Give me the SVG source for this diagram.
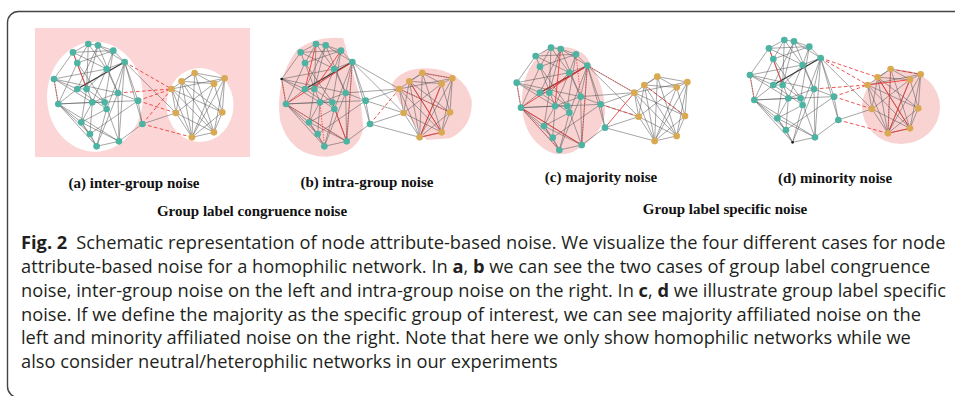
<svg xmlns="http://www.w3.org/2000/svg" xmlns:xlink="http://www.w3.org/1999/xlink" width="955" height="396" viewBox="0 0 955 396">
<style>
.e{stroke:#505050;stroke-width:1.8;stroke-opacity:0.85;fill:none}
.tk{stroke:#333;stroke-width:3.4;fill:none}
.r{stroke:#e8332e;stroke-width:2.5;fill:none}
.rd{stroke:#e8332e;stroke-width:2.5;stroke-dasharray:11 7;fill:none}
.ro{stroke:#e8332e;stroke-width:2.5;stroke-dasharray:4 4;fill:none}
.t{fill:#4db3a2}
.g{fill:#d9aa52}
.k{fill:#222}
.pink{fill:#f9d2d2}
.lab{font-family:"Liberation Serif","Times New Roman",serif;font-weight:bold;font-size:15px;fill:#111;text-anchor:middle}
.cap{font-family:"Open Sans","Noto Sans",sans-serif;font-size:18.25px;fill:#231f20}
.bold{font-weight:bold}
</style>
<defs>
<g id="base">
<line class="e" x1="183" y1="83" x2="212" y2="87"/>
<line class="e" x1="183" y1="83" x2="137" y2="108"/>
<line class="e" x1="183" y1="83" x2="238" y2="158"/>
<line class="e" x1="183" y1="83" x2="150" y2="140"/>
<line class="e" x1="183" y1="83" x2="178" y2="218"/>
<line class="e" x1="212" y1="87" x2="258" y2="103"/>
<line class="e" x1="212" y1="87" x2="292" y2="137"/>
<line class="e" x1="212" y1="87" x2="150" y2="218"/>
<line class="e" x1="212" y1="87" x2="272" y2="230"/>
<line class="e" x1="258" y1="103" x2="292" y2="137"/>
<line class="e" x1="258" y1="103" x2="150" y2="140"/>
<line class="e" x1="258" y1="103" x2="137" y2="108"/>
<line class="e" x1="258" y1="103" x2="232" y2="258"/>
<line class="e" x1="137" y1="108" x2="80" y2="188"/>
<line class="e" x1="137" y1="108" x2="195" y2="258"/>
<line class="e" x1="137" y1="108" x2="238" y2="158"/>
<line class="e" x1="292" y1="137" x2="238" y2="158"/>
<line class="tk" x1="292" y1="137" x2="150" y2="218"/>
<line class="e" x1="292" y1="137" x2="272" y2="230"/>
<line class="e" x1="292" y1="137" x2="332" y2="253"/>
<line class="e" x1="292" y1="137" x2="345" y2="323"/>
<line class="e" x1="292" y1="137" x2="275" y2="375"/>
<line class="e" x1="292" y1="137" x2="238" y2="278"/>
<line class="e" x1="238" y1="158" x2="80" y2="188"/>
<line class="e" x1="238" y1="158" x2="178" y2="218"/>
<line class="e" x1="238" y1="158" x2="195" y2="258"/>
<line class="e" x1="150" y1="140" x2="93" y2="263"/>
<line class="e" x1="150" y1="140" x2="232" y2="258"/>
<line class="e" x1="80" y1="188" x2="150" y2="218"/>
<line class="e" x1="80" y1="188" x2="93" y2="263"/>
<line class="e" x1="80" y1="188" x2="272" y2="230"/>
<line class="e" x1="80" y1="188" x2="195" y2="258"/>
<line class="e" x1="150" y1="218" x2="178" y2="218"/>
<line class="e" x1="150" y1="218" x2="93" y2="263"/>
<line class="e" x1="150" y1="218" x2="238" y2="278"/>
<line class="e" x1="178" y1="218" x2="232" y2="258"/>
<line class="e" x1="178" y1="218" x2="162" y2="318"/>
<line class="e" x1="272" y1="230" x2="195" y2="258"/>
<line class="e" x1="272" y1="230" x2="332" y2="253"/>
<line class="e" x1="272" y1="230" x2="208" y2="390"/>
<line class="e" x1="93" y1="263" x2="195" y2="258"/>
<line class="e" x1="93" y1="263" x2="332" y2="253"/>
<line class="e" x1="93" y1="263" x2="162" y2="318"/>
<line class="e" x1="93" y1="263" x2="188" y2="353"/>
<line class="e" x1="93" y1="263" x2="275" y2="375"/>
<line class="e" x1="93" y1="263" x2="208" y2="390"/>
<line class="e" x1="195" y1="258" x2="232" y2="258"/>
<line class="e" x1="195" y1="258" x2="188" y2="353"/>
<line class="e" x1="232" y1="258" x2="238" y2="278"/>
<line class="e" x1="232" y1="258" x2="275" y2="375"/>
<line class="e" x1="238" y1="278" x2="162" y2="318"/>
<line class="e" x1="238" y1="278" x2="208" y2="390"/>
<line class="e" x1="332" y1="253" x2="345" y2="323"/>
<line class="e" x1="332" y1="253" x2="188" y2="353"/>
<line class="e" x1="162" y1="318" x2="188" y2="353"/>
<line class="e" x1="162" y1="318" x2="275" y2="375"/>
<line class="e" x1="345" y1="323" x2="275" y2="375"/>
<line class="e" x1="188" y1="353" x2="208" y2="390"/>
<line class="e" x1="275" y1="375" x2="208" y2="390"/>
<line class="e" x1="272" y1="230" x2="275" y2="375"/>
<line class="e" x1="212" y1="87" x2="178" y2="218"/>
<line class="e" x1="258" y1="103" x2="238" y2="158"/>
<line class="e" x1="162" y1="318" x2="208" y2="390"/>
<line class="e" x1="195" y1="258" x2="162" y2="318"/>
<line class="e" x1="238" y1="158" x2="272" y2="230"/>
<line class="e" x1="502" y1="170" x2="463" y2="195"/>
<line class="e" x1="502" y1="170" x2="592" y2="186"/>
<line class="e" x1="502" y1="170" x2="560" y2="202"/>
<line class="e" x1="502" y1="170" x2="433" y2="218"/>
<line class="e" x1="502" y1="170" x2="560" y2="348"/>
<line class="e" x1="502" y1="170" x2="494" y2="363"/>
<line class="e" x1="463" y1="195" x2="560" y2="202"/>
<line class="e" x1="463" y1="195" x2="446" y2="290"/>
<line class="e" x1="463" y1="195" x2="585" y2="288"/>
<line class="e" x1="463" y1="195" x2="560" y2="348"/>
<line class="e" x1="592" y1="186" x2="560" y2="202"/>
<line class="e" x1="592" y1="186" x2="585" y2="288"/>
<line class="e" x1="592" y1="186" x2="560" y2="348"/>
<line class="e" x1="592" y1="186" x2="433" y2="218"/>
<line class="e" x1="592" y1="186" x2="494" y2="363"/>
<line class="e" x1="560" y1="202" x2="446" y2="290"/>
<line class="e" x1="560" y1="202" x2="494" y2="363"/>
<line class="e" x1="560" y1="202" x2="585" y2="288"/>
<line class="e" x1="433" y1="218" x2="446" y2="290"/>
<line class="e" x1="433" y1="218" x2="585" y2="288"/>
<line class="e" x1="433" y1="218" x2="560" y2="348"/>
<line class="e" x1="433" y1="218" x2="494" y2="363"/>
<line class="e" x1="446" y1="290" x2="560" y2="348"/>
<line class="e" x1="446" y1="290" x2="494" y2="363"/>
<line class="e" x1="585" y1="288" x2="560" y2="348"/>
<line class="e" x1="585" y1="288" x2="494" y2="363"/>
<line class="e" x1="560" y1="348" x2="494" y2="363"/>
<line class="e" x1="463" y1="195" x2="494" y2="363"/>
<line class="e" x1="292" y1="137" x2="446" y2="290"/>
<line class="e" x1="345" y1="323" x2="446" y2="290"/>
</g>
<g id="crossgray">
<line class="e" x1="292" y1="137" x2="433" y2="218"/>
<line class="e" x1="332" y1="253" x2="433" y2="218"/>
<line class="e" x1="332" y1="253" x2="446" y2="290"/>
<line class="e" x1="345" y1="323" x2="494" y2="363"/>
<line class="e" x1="272" y1="230" x2="433" y2="218"/>
</g>
</defs>

<rect id="frame" x="7.5" y="11.5" width="1000" height="386" rx="11" fill="none" stroke="#444" stroke-width="1.4"/>

<g id="backgrounds">
<rect x="35" y="28" width="215" height="129" fill="#fcd6d6"/>
<ellipse cx="95" cy="96.7" rx="48" ry="55" fill="#fff"/>
<ellipse cx="200" cy="105" rx="33.5" ry="37" fill="#fff"/>
<path class="pink" d="M343.3,38.3 L347.3,53.3 L360,96.7 L363.3,126.7 Q360,153.3 326.7,156.7 Q290,156.7 280,120 Q275,80 296.7,50 Q316.7,35 343.3,38.3 Z"/>
<path class="pink" d="M391.7,85 Q400,68.3 426.7,68.3 Q463.3,70 471.7,100 Q473.3,126.7 450,138.3 L426.7,140 Q410,120 400,103.3 Z"/>
<path class="pink" d="M550,46.7 Q583.3,45 590,63.3 Q605,86.7 605,113.3 Q601.7,136.7 573.3,151.7 Q556.7,158.3 543.3,148.3 Q521.7,133.3 521.7,100 Q523.3,63.3 550,46.7 Z"/>
<ellipse class="pink" cx="901" cy="107" rx="39" ry="37"/>
</g>

<g id="panel-a" transform="translate(27.3,16.3) scale(0.33333)">
<g id="a-connectors">
<use href="#base" xlink:href="#base"/>
<line class="ro" x1="80" y1="188" x2="93" y2="263"/>
<line class="r" x1="137" y1="108" x2="178" y2="218"/>
<line class="rd" x1="292" y1="137" x2="433" y2="218"/>
<line class="rd" x1="272" y1="230" x2="433" y2="218"/>
<line class="rd" x1="332" y1="253" x2="433" y2="218"/>
<line class="rd" x1="332" y1="253" x2="446" y2="290"/>
<line class="rd" x1="345" y1="323" x2="433" y2="218"/>
<line class="rd" x1="345" y1="323" x2="494" y2="363"/>
</g>
<g id="a-nodes">
<circle id="a-t0" class="t" cx="183" cy="83" r="10"/>
<circle id="a-t1" class="t" cx="212" cy="87" r="10"/>
<circle id="a-t2" class="t" cx="258" cy="103" r="10"/>
<circle id="a-t3" class="t" cx="137" cy="108" r="10"/>
<circle id="a-t4" class="t" cx="292" cy="137" r="10"/>
<circle id="a-t5" class="t" cx="238" cy="158" r="10"/>
<circle id="a-t6" class="t" cx="150" cy="140" r="10"/>
<circle id="a-t7" class="t" cx="80" cy="188" r="10"/>
<circle id="a-t8" class="t" cx="150" cy="218" r="10"/>
<circle id="a-t9" class="t" cx="178" cy="218" r="10"/>
<circle id="a-t10" class="t" cx="272" cy="230" r="10"/>
<circle id="a-t11" class="t" cx="93" cy="263" r="10"/>
<circle id="a-t12" class="t" cx="195" cy="258" r="10"/>
<circle id="a-t13" class="t" cx="232" cy="258" r="10"/>
<circle id="a-t14" class="t" cx="238" cy="278" r="10"/>
<circle id="a-t15" class="t" cx="332" cy="253" r="10"/>
<circle id="a-t16" class="t" cx="162" cy="318" r="10"/>
<circle id="a-t17" class="t" cx="345" cy="323" r="10"/>
<circle id="a-t18" class="t" cx="188" cy="353" r="10"/>
<circle id="a-t19" class="t" cx="275" cy="375" r="10"/>
<circle id="a-t20" class="t" cx="208" cy="390" r="10"/>
<circle id="a-g0" class="g" cx="502" cy="170" r="10"/>
<circle id="a-g1" class="g" cx="463" cy="195" r="10"/>
<circle id="a-g2" class="g" cx="592" cy="186" r="10"/>
<circle id="a-g3" class="g" cx="560" cy="202" r="10"/>
<circle id="a-g4" class="g" cx="433" cy="218" r="10"/>
<circle id="a-g5" class="g" cx="446" cy="290" r="10"/>
<circle id="a-g6" class="g" cx="585" cy="288" r="10"/>
<circle id="a-g7" class="g" cx="560" cy="348" r="10"/>
<circle id="a-g8" class="g" cx="494" cy="363" r="10"/>
</g>
</g>

<g id="panel-b" transform="translate(255,16.3) scale(0.33333)">
<g id="b-connectors">
<use href="#base" xlink:href="#base"/>
<use href="#crossgray" xlink:href="#crossgray"/>
<line class="ro" x1="80" y1="188" x2="93" y2="263"/>
<line class="r" x1="93" y1="263" x2="292" y2="137"/>
<line class="ro" x1="93" y1="263" x2="275" y2="375"/>
<line class="ro" x1="292" y1="137" x2="275" y2="375"/>
<line class="r" x1="183" y1="83" x2="150" y2="218"/>
<line class="r" x1="258" y1="103" x2="178" y2="218"/>
<line class="ro" x1="195" y1="258" x2="208" y2="390"/>
<line class="r" x1="232" y1="258" x2="275" y2="375"/>
<line class="rd" x1="345" y1="323" x2="433" y2="218"/>
<line class="ro" x1="502" y1="170" x2="592" y2="186"/>
<line class="r" x1="463" y1="195" x2="560" y2="348"/>
<line class="r" x1="560" y1="202" x2="494" y2="363"/>
<line class="r" x1="560" y1="348" x2="494" y2="363"/>
<line class="ro" x1="433" y1="218" x2="585" y2="288"/>
</g>
<g id="b-nodes">
<circle id="b-t0" class="t" cx="183" cy="83" r="10"/>
<circle id="b-t1" class="t" cx="212" cy="87" r="10"/>
<circle id="b-t2" class="t" cx="258" cy="103" r="10"/>
<circle id="b-t3" class="t" cx="137" cy="108" r="10"/>
<circle id="b-t4" class="t" cx="292" cy="137" r="10"/>
<circle id="b-t5" class="t" cx="238" cy="158" r="10"/>
<circle id="b-t6" class="t" cx="150" cy="140" r="10"/>
<circle id="b-t7" class="k" cx="80" cy="188" r="4"/>
<circle id="b-t8" class="t" cx="150" cy="218" r="10"/>
<circle id="b-t9" class="t" cx="178" cy="218" r="10"/>
<circle id="b-t10" class="t" cx="272" cy="230" r="10"/>
<circle id="b-t11" class="t" cx="93" cy="263" r="10"/>
<circle id="b-t12" class="t" cx="195" cy="258" r="10"/>
<circle id="b-t13" class="t" cx="232" cy="258" r="10"/>
<circle id="b-t14" class="t" cx="238" cy="278" r="10"/>
<circle id="b-t15" class="t" cx="332" cy="253" r="10"/>
<circle id="b-t16" class="t" cx="162" cy="318" r="10"/>
<circle id="b-t17" class="t" cx="345" cy="323" r="10"/>
<circle id="b-t18" class="t" cx="188" cy="353" r="10"/>
<circle id="b-t19" class="t" cx="275" cy="375" r="10"/>
<circle id="b-t20" class="t" cx="208" cy="390" r="10"/>
<circle id="b-g0" class="g" cx="502" cy="170" r="10"/>
<circle id="b-g1" class="g" cx="463" cy="195" r="10"/>
<circle id="b-g2" class="g" cx="592" cy="186" r="10"/>
<circle id="b-g3" class="g" cx="560" cy="202" r="10"/>
<circle id="b-g4" class="g" cx="433" cy="218" r="10"/>
<circle id="b-g5" class="g" cx="446" cy="290" r="10"/>
<circle id="b-g6" class="g" cx="585" cy="288" r="10"/>
<circle id="b-g7" class="g" cx="560" cy="348" r="10"/>
<circle id="b-g8" class="g" cx="494" cy="363" r="10"/>
</g>
</g>

<g id="panel-c" transform="translate(490,20) scale(0.33333)">
<g id="c-connectors">
<use href="#base" xlink:href="#base"/>
<use href="#crossgray" xlink:href="#crossgray"/>
<line class="ro" x1="80" y1="188" x2="93" y2="263"/>
<line class="r" x1="93" y1="263" x2="292" y2="137"/>
<line class="r" x1="292" y1="137" x2="150" y2="218"/>
<line class="r" x1="93" y1="263" x2="275" y2="375"/>
<line class="ro" x1="292" y1="137" x2="275" y2="375"/>
<line class="r" x1="212" y1="87" x2="195" y2="258"/>
<line class="ro" x1="93" y1="263" x2="208" y2="390"/>
<line class="ro" x1="258" y1="103" x2="272" y2="230"/>
<line class="rd" x1="332" y1="253" x2="446" y2="290"/>
<line class="r" x1="345" y1="323" x2="433" y2="218"/>
<line class="ro" x1="292" y1="137" x2="433" y2="218"/>
<line class="rd" x1="463" y1="195" x2="585" y2="288"/>
</g>
<g id="c-nodes">
<circle id="c-t0" class="t" cx="183" cy="83" r="10"/>
<circle id="c-t1" class="t" cx="212" cy="87" r="10"/>
<circle id="c-t2" class="t" cx="258" cy="103" r="10"/>
<circle id="c-t3" class="t" cx="137" cy="108" r="10"/>
<circle id="c-t4" class="t" cx="292" cy="137" r="10"/>
<circle id="c-t5" class="t" cx="238" cy="158" r="10"/>
<circle id="c-t6" class="t" cx="150" cy="140" r="10"/>
<circle id="c-t7" class="t" cx="80" cy="188" r="10"/>
<circle id="c-t8" class="t" cx="150" cy="218" r="10"/>
<circle id="c-t9" class="t" cx="178" cy="218" r="10"/>
<circle id="c-t10" class="t" cx="272" cy="230" r="10"/>
<circle id="c-t11" class="t" cx="93" cy="263" r="10"/>
<circle id="c-t12" class="t" cx="195" cy="258" r="10"/>
<circle id="c-t13" class="t" cx="232" cy="258" r="10"/>
<circle id="c-t14" class="t" cx="238" cy="278" r="10"/>
<circle id="c-t15" class="t" cx="332" cy="253" r="10"/>
<circle id="c-t16" class="t" cx="162" cy="318" r="10"/>
<circle id="c-t17" class="t" cx="345" cy="323" r="10"/>
<circle id="c-t18" class="t" cx="188" cy="353" r="10"/>
<circle id="c-t19" class="t" cx="275" cy="375" r="10"/>
<circle id="c-t20" class="t" cx="208" cy="390" r="10"/>
<circle id="c-g0" class="g" cx="502" cy="170" r="10"/>
<circle id="c-g1" class="g" cx="463" cy="195" r="10"/>
<circle id="c-g2" class="g" cx="592" cy="186" r="10"/>
<circle id="c-g3" class="g" cx="560" cy="202" r="10"/>
<circle id="c-g4" class="g" cx="433" cy="218" r="10"/>
<circle id="c-g5" class="g" cx="446" cy="290" r="10"/>
<circle id="c-g6" class="g" cx="585" cy="288" r="10"/>
<circle id="c-g7" class="g" cx="560" cy="348" r="10"/>
<circle id="c-g8" class="g" cx="494" cy="363" r="10"/>
</g>
</g>

<g id="panel-d" transform="translate(723.3,12.3) scale(0.33333)">
<g id="d-connectors">
<use href="#base" xlink:href="#base"/>
<line class="ro" x1="80" y1="188" x2="93" y2="263"/>
<line class="r" x1="137" y1="108" x2="178" y2="218"/>
<line class="rd" x1="292" y1="137" x2="433" y2="218"/>
<line class="rd" x1="292" y1="137" x2="463" y2="195"/>
<line class="rd" x1="272" y1="230" x2="433" y2="218"/>
<line class="rd" x1="332" y1="253" x2="433" y2="218"/>
<line class="rd" x1="332" y1="253" x2="446" y2="290"/>
<line class="rd" x1="345" y1="323" x2="494" y2="363"/>
<line class="rd" x1="502" y1="170" x2="592" y2="186"/>
<line class="ro" x1="502" y1="170" x2="494" y2="363"/>
<line class="r" x1="463" y1="195" x2="560" y2="348"/>
<line class="r" x1="560" y1="202" x2="494" y2="363"/>
<line class="r" x1="560" y1="348" x2="494" y2="363"/>
<line class="r" x1="433" y1="218" x2="560" y2="202"/>
</g>
<g id="d-nodes">
<circle id="d-t0" class="t" cx="183" cy="83" r="10"/>
<circle id="d-t1" class="t" cx="212" cy="87" r="10"/>
<circle id="d-t2" class="t" cx="258" cy="103" r="10"/>
<circle id="d-t3" class="t" cx="137" cy="108" r="10"/>
<circle id="d-t4" class="t" cx="292" cy="137" r="10"/>
<circle id="d-t5" class="t" cx="238" cy="158" r="10"/>
<circle id="d-t6" class="t" cx="150" cy="140" r="10"/>
<circle id="d-t7" class="t" cx="80" cy="188" r="10"/>
<circle id="d-t8" class="t" cx="150" cy="218" r="10"/>
<circle id="d-t9" class="t" cx="178" cy="218" r="10"/>
<circle id="d-t10" class="t" cx="272" cy="230" r="10"/>
<circle id="d-t11" class="t" cx="93" cy="263" r="10"/>
<circle id="d-t12" class="t" cx="195" cy="258" r="10"/>
<circle id="d-t13" class="t" cx="232" cy="258" r="10"/>
<circle id="d-t14" class="t" cx="238" cy="278" r="10"/>
<circle id="d-t15" class="t" cx="332" cy="253" r="10"/>
<circle id="d-t16" class="t" cx="162" cy="318" r="10"/>
<circle id="d-t17" class="t" cx="345" cy="323" r="10"/>
<circle id="d-t18" class="t" cx="188" cy="353" r="10"/>
<circle id="d-t19" class="t" cx="275" cy="375" r="10"/>
<circle id="d-t20" class="k" cx="208" cy="390" r="4"/>
<circle id="d-g0" class="g" cx="502" cy="170" r="10"/>
<circle id="d-g1" class="g" cx="463" cy="195" r="10"/>
<circle id="d-g2" class="g" cx="592" cy="186" r="10"/>
<circle id="d-g3" class="g" cx="560" cy="202" r="10"/>
<circle id="d-g4" class="g" cx="433" cy="218" r="10"/>
<circle id="d-g5" class="g" cx="446" cy="290" r="10"/>
<circle id="d-g6" class="g" cx="585" cy="288" r="10"/>
<circle id="d-g7" class="g" cx="560" cy="348" r="10"/>
<circle id="d-g8" class="g" cx="494" cy="363" r="10"/>
</g>
</g>

<g id="labels">
<text class="lab" x="134" y="188">(a) inter-group noise</text>
<text class="lab" x="367" y="187">(b) intra-group noise</text>
<text class="lab" x="601" y="182">(c) majority noise</text>
<text class="lab" x="835" y="183">(d) minority noise</text>
<text class="lab" x="252" y="216">Group label congruence noise</text>
<text class="lab" x="725" y="214">Group label specific noise</text>
</g>

<g id="caption" class="cap">
<text x="21" y="249"><tspan class="bold">Fig. 2</tspan><tspan dx="9">Schematic representation of node attribute-based noise. We visualize the four different cases for node</tspan></text>
<text x="21" y="273">attribute-based noise for a homophilic network. In <tspan class="bold">a</tspan>, <tspan class="bold">b</tspan> we can see the two cases of group label congruence</text>
<text x="21" y="297">noise, inter-group noise on the left and intra-group noise on the right. In <tspan class="bold">c</tspan>, <tspan class="bold">d</tspan> we illustrate group label specific</text>
<text x="21" y="321">noise. If we define the majority as the specific group of interest, we can see majority affiliated noise on the</text>
<text x="21" y="344">left and minority affiliated noise on the right. Note that here we only show homophilic networks while we</text>
<text x="21" y="368">also consider neutral/heterophilic networks in our experiments</text>
</g>
</svg>
